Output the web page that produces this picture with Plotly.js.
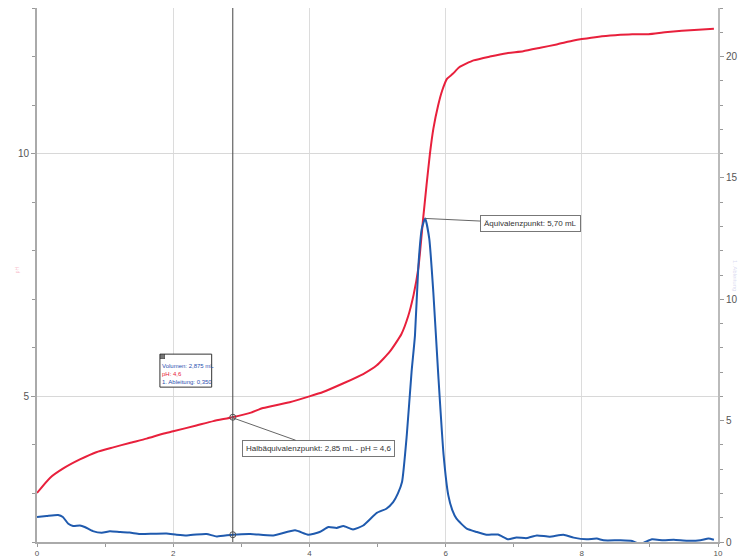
<!DOCTYPE html>
<html>
<head>
<meta charset="utf-8">
<script src="https://cdn.plot.ly/plotly-3.0.1.min.js"></script>
<style>html,body{margin:0;padding:0;background:#fff;}#chart{width:741px;height:557px;}</style>
</head>
<body>
<div id="chart"></div>
<script>
// pH curve (left axis)
const volumePH = [0,0.19,0.38,0.63,0.87,1.12,1.36,1.61,1.85,2.0,2.34,2.59,2.87,3.13,3.32,3.71,4.0,4.2,4.5,4.79,4.99,5.18,5.35,5.45,5.53,5.60,5.67,5.72,5.77,5.82,5.89,5.95,6.02,6.11,6.2,6.41,6.65,6.90,7.14,7.39,7.63,7.88,8.0,8.25,8.49,8.74,8.98,9.22,9.47,9.71,9.94];
const pH = [3.01,3.32,3.51,3.70,3.85,3.95,4.04,4.13,4.23,4.28,4.40,4.49,4.57,4.66,4.76,4.88,5.0,5.09,5.27,5.46,5.64,5.92,6.28,6.65,7.09,7.64,8.66,9.35,10.0,10.51,10.99,11.3,11.54,11.65,11.78,11.92,12.0,12.07,12.11,12.18,12.25,12.33,12.36,12.41,12.44,12.46,12.46,12.50,12.53,12.55,12.57];
// 1. Ableitung (right axis)
const volumeDeriv = [0,0.14,0.31,0.38,0.46,0.53,0.63,0.70,0.82,0.95,1.07,1.22,1.36,1.51,1.71,1.90,2.05,2.20,2.34,2.49,2.64,2.87,3.13,3.47,3.79,3.98,4.15,4.28,4.40,4.50,4.64,4.79,4.99,5.13,5.23,5.30,5.36,5.43,5.50,5.55,5.60,5.65,5.70,5.76,5.82,5.89,5.97,6.04,6.10,6.16,6.31,6.46,6.60,6.77,6.92,7.04,7.19,7.34,7.53,7.73,7.88,8.07,8.22,8.32,8.57,8.74,8.84,8.91,9.03,9.20,9.35,9.55,9.74,9.86,9.94];
const deriv = [1.03,1.07,1.11,1.03,0.75,0.66,0.68,0.62,0.45,0.38,0.44,0.41,0.39,0.33,0.34,0.35,0.30,0.27,0.31,0.33,0.23,0.30,0.33,0.27,0.48,0.30,0.41,0.62,0.58,0.66,0.52,0.68,1.20,1.37,1.64,2.0,2.47,4.4,7.0,8.5,11.37,12.9,13.33,12.5,10.28,6.99,3.6,1.92,1.3,0.96,0.55,0.41,0.30,0.31,0.11,0.19,0.16,0.27,0.22,0.30,0.18,0.11,0.14,0.07,0.07,0.04,-0.07,-0.03,0.11,0.07,0.09,0.05,0.07,0.14,0.09];
// cursor / marked points
const cursorVolume = [2.875];
const cursorPH = [4.57];
const cursorDeriv = [0.30];
const halfEqVolume = 2.85, halfEqPH = 4.57;
const eqVolume = 5.70, eqDeriv = 13.33;

const RED = '#e8203c', BLUE = '#1f5aae';
const FONT = 'Liberation Sans, Arial, sans-serif';

const traces = [
  {x: volumePH, y: pH, yaxis: 'y', mode: 'lines', line: {color: RED, width: 2, shape: 'spline', smoothing: 0.5}, hoverinfo: 'skip'},
  {x: volumeDeriv, y: deriv, yaxis: 'y2', mode: 'lines', line: {color: BLUE, width: 2, shape: 'spline', smoothing: 0.5}, hoverinfo: 'skip'},
  {x: cursorVolume, y: cursorPH, yaxis: 'y', mode: 'markers', marker: {symbol: 'circle-open', size: 6, color: '#555', line: {width: 1}}, hoverinfo: 'skip'},
  {x: cursorVolume, y: cursorDeriv, yaxis: 'y2', mode: 'markers', marker: {symbol: 'circle-open', size: 6, color: '#555', line: {width: 1}}, hoverinfo: 'skip'}
];

const layout = {
  width: 741, height: 557,
  margin: {l: 37, r: 23, t: 8, b: 15, pad: 0},
  paper_bgcolor: '#fff', plot_bgcolor: '#fff',
  showlegend: false,
  font: {family: FONT},
  xaxis: {range: [0, 10], tick0: 0, dtick: 2, ticks: 'outside', ticklen: 3, tickcolor: '#999',
    showline: true, linecolor: '#aaa', linewidth: 1.5, showgrid: true, gridcolor: '#dcdcdc', gridwidth: 1,
    zeroline: false, tickfont: {family: FONT, size: 8, color: '#555'}, ticklabelstandoff: 0,
    minor: {dtick: 1, ticks: 'outside', ticklen: 3, tickcolor: '#999', showgrid: false}},
  yaxis: {range: [2, 13], tick0: 0, dtick: 5, ticks: 'outside', ticklen: 4, tickcolor: '#999',
    showline: true, linecolor: '#aaa', linewidth: 2, showgrid: true, gridcolor: '#d8d8d8', gridwidth: 1,
    zeroline: false, tickfont: {family: FONT, size: 10, color: '#555'},
    minor: {dtick: 1, ticks: 'outside', ticklen: 3, tickcolor: '#999', showgrid: false}},
  yaxis2: {range: [0, 22], tick0: 0, dtick: 5, overlaying: 'y', side: 'right', ticks: 'outside', ticklen: 4, tickcolor: '#999',
    showline: true, linecolor: '#bbb', linewidth: 2, showgrid: false, zeroline: false, tickfont: {family: FONT, size: 10, color: '#555'},
    minor: {dtick: 1, ticks: 'outside', ticklen: 3, tickcolor: '#999', showgrid: false}},
  shapes: [
    {type: 'line', xref: 'x', yref: 'paper', x0: cursorVolume[0], x1: cursorVolume[0], y0: 0, y1: 1, line: {color: '#444', width: 1}},
    {type: 'rect', xref: 'x', yref: 'y', x0: 1.805, x1: 2.565, y0: 5.19, y1: 5.87, layer: 'above', fillcolor: '#fff', line: {color: '#333', width: 1}}
  ],
  annotations: [
    {xref: 'x', yref: 'y', x: 1.82, y: 5.71, xanchor: 'left', yanchor: 'top', showarrow: false, align: 'left',
      text: "<span style='color:#2a4fb0'>Volumen: 2,875 mL</span><br><span style='color:" + RED + "'>pH: 4,6</span><br><span style='color:#2a4fb0'>1. Ableitung: 0,350</span>",
      font: {family: FONT, size: 6}, borderpad: 0},
    {xref: 'x', yref: 'y', x: 1.80, y: 5.88, xanchor: 'left', yanchor: 'top', showarrow: false, text: '',
      width: 4, height: 4, bgcolor: '#777', bordercolor: '#333', borderwidth: 0.5, borderpad: 0},
    {xref: 'x', yref: 'y', x: halfEqVolume, y: halfEqPH, ax: 87, ay: 31, showarrow: true, arrowhead: 0, arrowwidth: 1, arrowcolor: '#666',
      text: 'Halbäquivalenzpunkt: 2,85 mL - pH = 4,6', font: {family: FONT, size: 8, color: '#333'},
      bgcolor: '#fff', bordercolor: '#777', borderwidth: 1, borderpad: 3},
    {xref: 'x', yref: 'y2', x: eqVolume, y: eqDeriv, ax: 105, ay: 5, showarrow: true, arrowhead: 0, arrowwidth: 1, arrowcolor: '#666',
      text: 'Äquivalenzpunkt: 5,70 mL', font: {family: FONT, size: 8, color: '#333'},
      bgcolor: '#fff', bordercolor: '#777', borderwidth: 1, borderpad: 3},
    {xref: 'paper', yref: 'paper', x: -0.03, y: 0.51, xanchor: 'center', yanchor: 'middle', showarrow: false, textangle: -90,
      text: 'pH', font: {family: FONT, size: 5, color: 'rgba(240,120,150,0.5)'}},
    {xref: 'paper', yref: 'paper', x: 1.025, y: 0.5, xanchor: 'center', yanchor: 'middle', showarrow: false, textangle: 90,
      text: '1. Ableitung', font: {family: FONT, size: 6, color: 'rgba(170,170,220,0.45)'}}
  ]
};

Plotly.newPlot('chart', traces, layout, {displayModeBar: false, staticPlot: true});
</script>
</body>
</html>
